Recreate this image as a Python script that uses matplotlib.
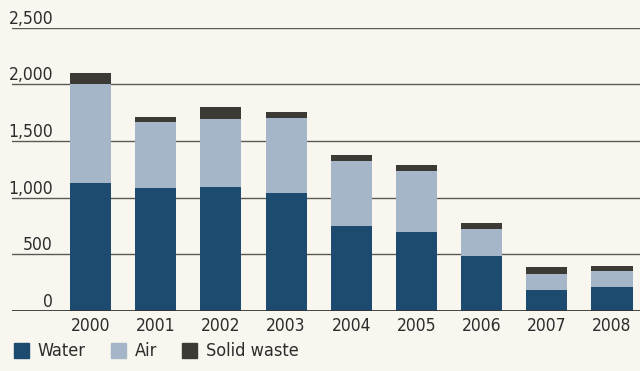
import numpy as np
import matplotlib
matplotlib.use("Agg")
import matplotlib.pyplot as plt
from matplotlib.patches import Patch
from matplotlib.transforms import blended_transform_factory

years = ['2000', '2001', '2002', '2003', '2004', '2005', '2006', '2007', '2008']
water = [1126, 1088, 1091, 1038, 753, 697, 488, 185, 209]
air = [874, 580, 600, 665, 571, 541, 238, 139, 147]
solid = [97, 41, 112, 53, 52, 50, 48, 67, 44]
yticks = [0, 500, 1000, 1500, 2000, 2500]

plt.rcParams['font.family'] = ['Liberation Sans Narrow', 'DejaVu Sans']
plt.rcParams['font.stretch'] = 'condensed'

bg = '#f8f6ef'
c_water = '#1d4b70'
c_air = '#a4b6c8'
c_solid = '#3b3a35'
c_text = '#2c2c2c'

fig = plt.figure(figsize=(6.4, 3.71), dpi=100, facecolor=bg)
ax = fig.add_axes([12/640, 60/371, 628/640, 283.3/371])
ax.set_facecolor(bg)

x = np.arange(len(years))
w = 0.63
water = np.array(water)
air = np.array(air)
solid = np.array(solid)
ax.bar(x, water, w, color=c_water, zorder=3)
ax.bar(x, air, w, bottom=water, color=c_air, zorder=3)
ax.bar(x, solid, w, bottom=water + air, color=c_solid, zorder=3)

ax.set_xlim(-1.204, 8.43)
ax.set_ylim(0, 2500)

for v in yticks[1:]:
    ax.axhline(v, color='#5a5a55', lw=1.0, zorder=1)
ax.axhline(0, color='#333330', lw=2.0, zorder=4)

trans = blended_transform_factory(fig.transFigure, ax.transData)
for v in yticks:
    ax.text(53/640, v + 35, f'{v:,}', transform=trans, ha='right', va='baseline',
            fontsize=12.5, color=c_text)

for s in ax.spines.values():
    s.set_visible(False)
ax.set_yticks([])
ax.set_xticks(x)
ax.set_xticklabels(years, fontsize=12.5, color=c_text)
ax.tick_params(axis='x', length=0, pad=4)

handles = [Patch(color=c_water, label='Water'),
           Patch(color=c_air, label='Air'),
           Patch(color=c_solid, label='Solid waste')]
fig.legend(handles=handles, loc='lower left', bbox_to_anchor=(-0.003, -0.015),
           ncol=3, frameon=False, fontsize=13, handlelength=0.8, handleheight=0.9,
           handletextpad=0.5, columnspacing=1.4, labelcolor=c_text)

fig.savefig('out.png', dpi=100, facecolor=bg)
